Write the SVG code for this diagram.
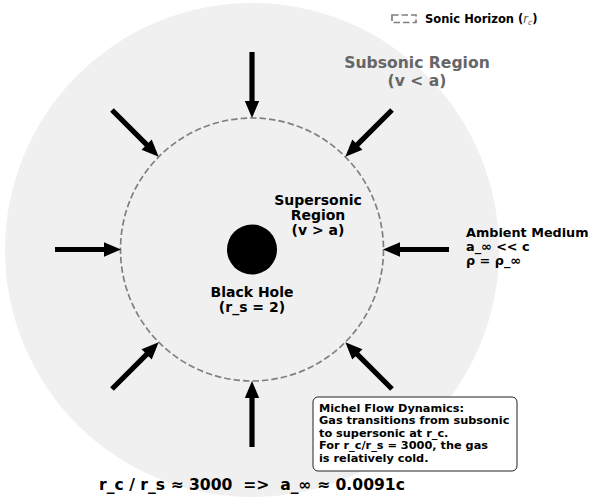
<svg xmlns="http://www.w3.org/2000/svg" width="589" height="498" viewBox="0 0 589 498">
<style>
  text { font-family: "DejaVu Sans", "Liberation Sans", sans-serif; font-weight: bold; fill: #000; }
  .arrow { fill: #000; }
  .sub { fill: #666; font-size: 15.6px; }
  .mid { text-anchor: middle; }
  .dash { fill: none; stroke: #808080; stroke-width: 1.7; stroke-dasharray: 6.5 3; }
  .box { font-size: 11.3px; }
</style>
<defs>
  <path id="arr" d="M0,-2.6 L49,-2.6 L49,-7.2 L66,0 L49,7.2 L49,2.6 L0,2.6 Z"/>
</defs>
<rect width="589" height="498" fill="#fff"/>
<g id="subsonic-region">
  <circle cx="252" cy="250" r="247" fill="#f0f0f0"/>
  <text class="sub mid" x="417" y="68">Subsonic Region</text>
  <text class="sub mid" x="417" y="86">(v &lt; a)</text>
</g>
<g id="sonic-horizon">
  <circle class="dash" cx="252" cy="249.5" r="131.5"/>
</g>
<g id="supersonic-region">
  <text class="mid" x="318" y="205" font-size="14">Supersonic</text>
  <text class="mid" x="318" y="220" font-size="14">Region</text>
  <text class="mid" x="318" y="235" font-size="14">(v &gt; a)</text>
</g>
<g id="black-hole">
  <circle cx="252" cy="249.5" r="25" fill="#000"/>
  <text class="mid" x="252" y="297" font-size="14">Black Hole</text>
  <text class="mid" x="252" y="312" font-size="14">(r_s = 2)</text>
</g>
<g id="ambient-medium">
  <text x="466" y="237" font-size="12.8">Ambient Medium</text>
  <text x="466" y="251" font-size="12.8">a_∞ &lt;&lt; c</text>
  <text x="466" y="265" font-size="12.8">ρ = ρ_∞</text>
</g>
<g id="connectors">
  <use href="#arr" class="arrow" transform="translate(252,52) rotate(90)"/>
  <use href="#arr" class="arrow" transform="translate(252,447) rotate(-90)"/>
  <use href="#arr" class="arrow" transform="translate(55,249.5)"/>
  <use href="#arr" class="arrow" transform="translate(449,249.5) rotate(180)"/>
  <use href="#arr" class="arrow" transform="translate(112,110) rotate(45)"/>
  <use href="#arr" class="arrow" transform="translate(392,110) rotate(135)"/>
  <use href="#arr" class="arrow" transform="translate(112,389) rotate(-45)"/>
  <use href="#arr" class="arrow" transform="translate(392,389) rotate(-135)"/>
</g>
<g id="info-box">
  <rect x="313" y="397" width="204" height="74" rx="5" fill="#fff" stroke="#222" stroke-width="1"/>
  <text class="box" x="319" y="411.5">Michel Flow Dynamics:</text>
  <text class="box" x="319" y="424">Gas transitions from subsonic</text>
  <text class="box" x="319" y="436.7">to supersonic at r_c.</text>
  <text class="box" x="319" y="449.3">For r_c/r_s = 3000, the gas</text>
  <text class="box" x="319" y="462">is relatively cold.</text>
</g>
<g id="legend">
  <rect class="dash" x="392" y="15" width="24" height="7.5"/>
  <text x="425" y="22.5" font-size="11.5">Sonic Horizon (<tspan font-style="italic" font-weight="normal" fill="#555">r</tspan><tspan font-style="italic" font-weight="normal" fill="#555" font-size="7.5" dy="2">c</tspan><tspan dy="-2">)</tspan></text>
</g>
<g id="formula">
  <text class="mid" x="252" y="490" font-size="15.6" style="white-space:pre">r_c / r_s ≈ 3000  =&gt;  a_∞ ≈ 0.0091c</text>
</g>
</svg>
